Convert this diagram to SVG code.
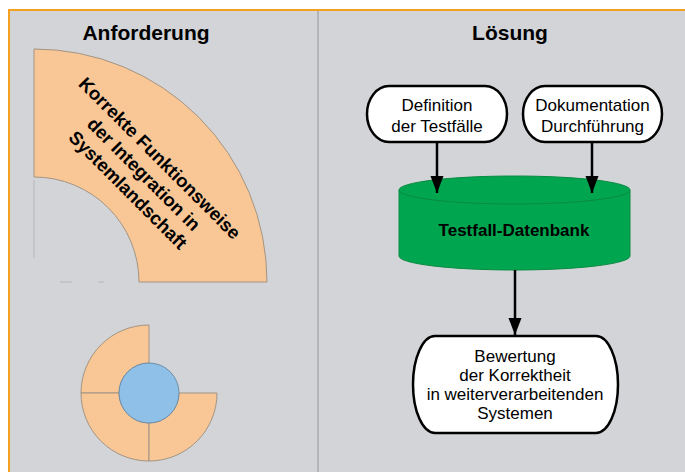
<svg xmlns="http://www.w3.org/2000/svg" width="685" height="472" viewBox="0 0 685 472">
<style>
.title{font-family:"Liberation Sans",Arial,sans-serif;font-weight:bold;font-size:21px;fill:#000;text-anchor:middle}
.lbl{font-family:"Liberation Sans",Arial,sans-serif;font-size:17px;fill:#000;text-anchor:middle}
.bold{font-family:"Liberation Sans",Arial,sans-serif;font-weight:bold;font-size:17px;fill:#000;text-anchor:middle}
.rot{font-family:"Liberation Sans",Arial,sans-serif;font-weight:bold;font-size:18.5px;fill:#000;text-anchor:middle}
.seg{fill:#f9c796;stroke:#a39484;stroke-width:1}
.term{fill:#fff;stroke:#000;stroke-width:2.5}
.conn{stroke:#000;stroke-width:2.5;fill:none}
</style>
<defs>
<marker id="ah" markerUnits="userSpaceOnUse" markerWidth="18" markerHeight="14" refX="17" refY="7" orient="auto" viewBox="0 0 18 14">
<path d="M0 0.5 L17 7 L0 13.5 Z" fill="#000"/>
</marker>
</defs>
<rect x="0" y="0" width="685" height="472" fill="#fff"/>
<g id="frame">
<rect x="9" y="10" width="680" height="470" fill="#d2d4d7" stroke="#f5a020" stroke-width="2"/>
<line x1="318" y1="11" x2="318" y2="472" stroke="#a9abae" stroke-width="1.5"/>
<text class="title" x="146" y="40">Anforderung</text>
<text class="title" x="510" y="40">Lösung</text>
</g>
<g id="requirement">
<path class="seg" d="M34 49 A233 233 0 0 1 267 282 L139 282 A105 105 0 0 0 34 177 Z"/>
<line x1="34" y1="180" x2="34" y2="258" stroke="#b6b8bb" stroke-width="1"/>
<line x1="60" y1="282" x2="72" y2="282" stroke="#b6b8bb" stroke-width="1"/>
<line x1="98" y1="282" x2="104" y2="282" stroke="#b6b8bb" stroke-width="1"/>
<g transform="translate(144,174) rotate(45)">
<text class="rot" x="0" y="-16">Korrekte Funktionsweise</text>
<text class="rot" x="0" y="6.5">der Integration in</text>
<text class="rot" x="0" y="29">Systemlandschaft</text>
</g>
</g>
<g id="ring">
<path class="seg" d="M81 393 A68 68 0 0 1 149 325 L149 363 A30 30 0 0 0 119 393 Z"/>
<path class="seg" d="M81 393 L119 393 A30 30 0 0 0 149 423 L149 461 A68 68 0 0 1 81 393 Z"/>
<path class="seg" d="M149 461 L149 423 A30 30 0 0 0 179 393 L217 393 A68 68 0 0 1 149 461 Z"/>
<circle cx="149" cy="393" r="30" fill="#8ec0e8" stroke="#6f8ea8" stroke-width="1"/>
</g>
<g id="db">
<path d="M399 190 V256 A115.5 14 0 0 0 630 256 V190 Z" fill="#00a64f" stroke="#0a8a42" stroke-width="1"/>
<ellipse cx="514.5" cy="190" rx="115.5" ry="14" fill="#00a64f" stroke="#0a8a42" stroke-width="1"/>
<text class="bold" x="514" y="236">Testfall-Datenbank</text>
</g>
<g id="def">
<rect class="term" x="367" y="86" width="140" height="56" rx="22" ry="28"/>
<text class="lbl" x="437" y="111">Definition</text>
<text class="lbl" x="437" y="132">der Testfälle</text>
</g>
<g id="doc">
<rect class="term" x="523" y="86" width="139" height="56" rx="22" ry="28"/>
<text class="lbl" x="592.5" y="111">Dokumentation</text>
<text class="lbl" x="592.5" y="132">Durchführung</text>
</g>
<g id="eval">
<rect class="term" x="413" y="336" width="205" height="97" rx="22" ry="48.5"/>
<text class="lbl" x="515" y="362">Bewertung</text>
<text class="lbl" x="515" y="381">der Korrektheit</text>
<text class="lbl" x="515" y="400">in weiterverarbeitenden</text>
<text class="lbl" x="515" y="419">Systemen</text>
</g>
<g id="connectors">
<line class="conn" x1="437" y1="143" x2="437" y2="193" marker-end="url(#ah)"/>
<line class="conn" x1="592" y1="143" x2="592" y2="193" marker-end="url(#ah)"/>
<line class="conn" x1="515" y1="270" x2="515" y2="335" marker-end="url(#ah)"/>
</g>
</svg>
